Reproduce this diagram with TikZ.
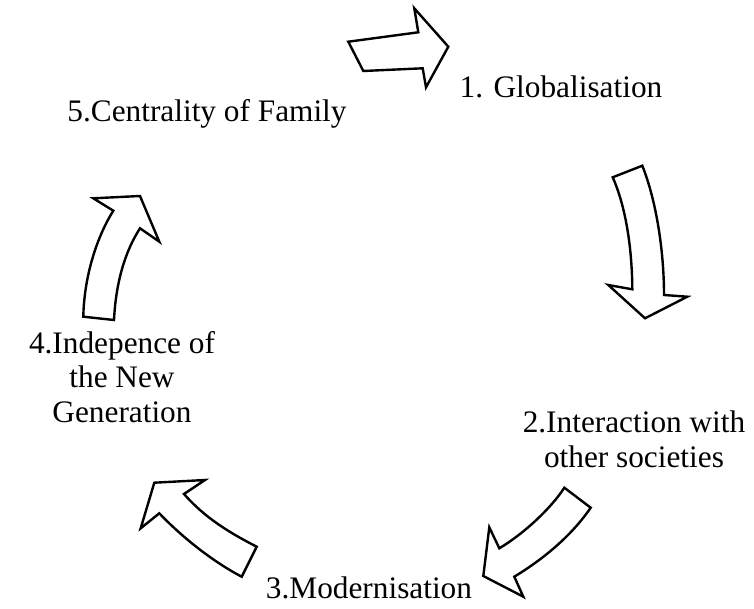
\documentclass[tikz,border=0pt]{standalone}
\usepackage{fontspec}
\setmainfont{Liberation Serif}

\tikzset{
  blockarrow/.style={draw, line width=2.4pt, line join=miter, fill=white},
  lbl/.style={font=\fontsize{31.3}{34.5}\selectfont, align=center, anchor=base, inner sep=0pt}
}

\begin{document}
\begin{tikzpicture}[x=1pt, y=-1pt]
				\useasboundingbox (0, 0) rectangle (754, 609);

				\node[lbl] (glob) at (561, 98) {1. Globalisation};
				\node[lbl] (inter) at (634, 467) {2.Interaction with\\other societies};
				\node[lbl] (modern) at (369, 598) {3.Modernisation};
				\node[lbl] (indep) at (122, 422) {4.Indepence of\\the New\\Generation};
				\node[lbl] (family) at (207, 122) {5.Centrality of Family};

				% family -> globalisation
				\draw[blockarrow] (348.3, 41.7) -- (418.3, 32.3) -- (414.3, 8.3) -- (448.3, 46.7)
					-- (426, 87.3) -- (422.7, 68.3) -- (363.3, 71) -- cycle;
				% globalisation -> interaction
				\draw[blockarrow] (612.7, 177.3) -- (642.3, 165.7)
					.. controls (656, 200) and (664, 250) .. (664, 295)
					-- (687.3, 296.7) -- (645, 318.3) -- (608.3, 285) -- (632.3, 289.3)
					.. controls (632, 245) and (625, 205) .. cycle;
				% interaction -> modernisation
				\draw[blockarrow] (564.3, 487.7) -- (590.7, 507.7)
					.. controls (572, 535) and (545, 558) .. (514.3, 576.7)
					-- (523.3, 596.7) -- (483.3, 576) -- (489.3, 527.3) -- (499.3, 548.3)
					.. controls (525, 533) and (552, 507) .. cycle;
				% modernisation -> independence
				\draw[blockarrow] (256.7, 546.7) -- (241.7, 576.7)
					.. controls (210, 560) and (180, 535) .. (159.3, 513.3)
					-- (140.7, 528.3) -- (154.3, 482.7) -- (205, 480) -- (184, 494)
					.. controls (205, 518) and (230, 533) .. cycle;
				% independence -> family
				\draw[blockarrow] (83.3, 316.7) -- (114, 320)
					.. controls (116, 280) and (126, 250) .. (140, 228.3)
					-- (159.3, 241.7) -- (140, 196) -- (93.3, 198.3) -- (113.3, 210.7)
					.. controls (95, 240) and (84, 280) .. cycle;
\end{tikzpicture}
\end{document}
